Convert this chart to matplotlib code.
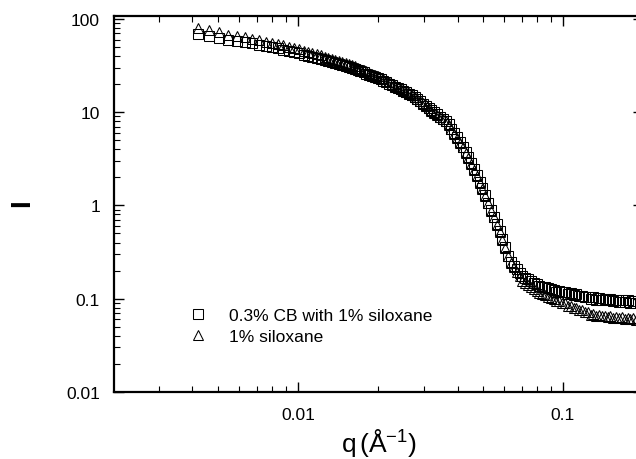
"""SANS intensity curves: 0.3% CB with 1% siloxane vs 1% siloxane."""

import matplotlib

matplotlib.use("Agg")

import matplotlib.pyplot as plt
from matplotlib import ticker

plt.rcParams["font.family"] = ["Liberation Sans", "DejaVu Sans"]
plt.rcParams["mathtext.fontset"] = "custom"
plt.rcParams["mathtext.rm"] = "Liberation Sans"
plt.rcParams["mathtext.it"] = "Liberation Sans"

# scattering vector q (1/A)
q = [
    0.00420, 0.00462, 0.00504, 0.00546, 0.00588, 0.00630, 0.00672, 0.00714,
    0.00756, 0.00798, 0.00840, 0.00882, 0.00924, 0.00966, 0.01008, 0.01050,
    0.01092, 0.01134, 0.01176, 0.01218, 0.01260, 0.01302, 0.01344, 0.01386,
    0.01428, 0.01470, 0.01512, 0.01554, 0.01596,
    0.0164, 0.0168, 0.0172, 0.0177, 0.0181, 0.0186, 0.0190, 0.0195, 0.0200, 0.0205,
    0.0210, 0.0215, 0.0221, 0.0226, 0.0232, 0.0238, 0.0244, 0.0250, 0.0256, 0.0262,
    0.0269, 0.0276, 0.0282, 0.0289, 0.0297, 0.0304, 0.0312, 0.0319, 0.0327, 0.0335,
    0.0344, 0.0352, 0.0361, 0.0370, 0.0379, 0.0389, 0.0398, 0.0408, 0.0419, 0.0429,
    0.0440, 0.0451, 0.0462, 0.0473, 0.0485, 0.0497, 0.0510, 0.0523, 0.0536, 0.0549,
    0.0563, 0.0577, 0.0591, 0.0606, 0.0621, 0.0637, 0.0653, 0.0669, 0.0686, 0.0703,
    0.0720, 0.0738, 0.0757, 0.0776, 0.0795, 0.0815, 0.0835, 0.0856, 0.0878, 0.0900,
    0.0922, 0.0945, 0.0969, 0.0993, 0.1018, 0.1043, 0.1069, 0.1096, 0.1123, 0.1151,
    0.1180, 0.1210, 0.1240, 0.1271, 0.1303, 0.1335, 0.1369, 0.1403, 0.1438, 0.1474,
    0.1511, 0.1548, 0.1587, 0.1627, 0.1667, 0.1709, 0.1752, 0.1796, 0.1840, 0.1886,
]

# intensity, 0.3% CB with 1% siloxane (squares)
intensity_cb = [
    69.0, 65.3, 62.5, 59.7, 58.3, 56.6, 54.5, 52.6, 50.9, 49.4, 48.1, 46.7,
    45.2, 43.9, 42.6, 41.4, 40.4, 39.3, 38.3, 37.3, 36.3, 35.4, 34.6, 33.8,
    33.0, 32.3, 31.6, 30.8, 29.9,
    29.0, 28.2, 27.5, 26.6, 25.9, 25.2, 24.6, 23.9, 23.2, 22.5,
    21.8, 21.0, 20.2, 19.6, 18.8, 18.1, 17.5, 16.9, 16.3, 15.8,
    15.2, 14.4, 13.8, 13.1, 12.3, 11.7, 11.1, 10.5, 10.0, 9.48,
    8.95, 8.51, 8.05, 7.39, 6.65, 5.93, 5.36, 4.81, 4.28, 3.76,
    3.27, 2.86, 2.47, 2.11, 1.79, 1.52, 1.28, 1.07, 0.90, 0.757,
    0.631, 0.528, 0.434, 0.354, 0.290, 0.246, 0.226, 0.208, 0.190, 0.175,
    0.167, 0.161, 0.155, 0.149, 0.144, 0.138, 0.135, 0.132, 0.129, 0.127,
    0.124, 0.119, 0.121, 0.117, 0.118, 0.112, 0.115, 0.109, 0.111, 0.106,
    0.108, 0.103, 0.105, 0.100, 0.103, 0.098, 0.101, 0.097, 0.100, 0.096,
    0.099, 0.094, 0.098, 0.093, 0.097, 0.092, 0.096, 0.091, 0.095, 0.090,
]

# intensity, 1% siloxane (triangles)
intensity_siloxane = [
    80.0, 75.2, 71.4, 67.9, 65.9, 63.5, 61.0, 58.8, 56.7, 54.9, 53.3, 51.8,
    50.0, 48.5, 47.0, 45.6, 44.3, 43.0, 41.8, 40.6, 39.4, 38.4, 37.4, 36.5,
    35.5, 34.7, 33.9, 32.9, 31.9,
    30.9, 29.9, 29.1, 28.1, 27.3, 26.5, 25.8, 25.0, 24.2, 23.4,
    22.6, 21.7, 20.8, 20.1, 19.2, 18.5, 17.8, 17.1, 16.4, 15.9,
    15.3, 14.5, 13.7, 13.0, 12.4, 11.8, 11.0, 10.4, 9.9, 9.40,
    8.90, 8.45, 7.95, 7.30, 6.55, 5.85, 5.28, 4.72, 4.20, 3.68,
    3.20, 2.80, 2.41, 2.06, 1.75, 1.49, 1.25, 1.05, 0.88, 0.742,
    0.618, 0.515, 0.425, 0.347, 0.285, 0.243, 0.217, 0.195, 0.173, 0.155,
    0.146, 0.140, 0.134, 0.128, 0.122, 0.116, 0.113, 0.109, 0.105, 0.102,
    0.0987, 0.0945, 0.0940, 0.0890, 0.0890, 0.0845, 0.0845, 0.0795, 0.0800, 0.0755,
    0.0755, 0.0712, 0.0715, 0.0672, 0.0688, 0.0660, 0.0672, 0.0645, 0.0658, 0.0630,
    0.0645, 0.0620, 0.0638, 0.0615, 0.0632, 0.0608, 0.0625, 0.0602, 0.0618, 0.0598,
]

series_labels = ["0.3% CB with 1% siloxane", "1% siloxane"]


def main() -> None:
    fig = plt.figure(figsize=(6.36, 4.6), dpi=100)
    # right spine sits just past the image edge, as in the scan
    ax = fig.add_axes([0.1792, 0.1457, 0.8318, 0.8163])

    ax.plot(q, intensity_cb, linestyle="none", marker="s", markersize=6.5,
            markerfacecolor="none", markeredgecolor="black",
            markeredgewidth=0.75, label=series_labels[0])
    ax.plot(q, intensity_siloxane, linestyle="none", marker="^", markersize=6.5,
            markerfacecolor="none", markeredgecolor="black",
            markeredgewidth=0.75, label=series_labels[1])

    ax.set_xscale("log")
    ax.set_yscale("log")
    ax.set_xlim(0.002023, 0.2004)
    ax.set_ylim(0.01, 106)

    fmt = ticker.FuncFormatter(lambda v, _: f"{v:g}")
    ax.xaxis.set_major_formatter(fmt)
    ax.yaxis.set_major_formatter(fmt)
    ax.xaxis.set_minor_formatter(ticker.NullFormatter())
    ax.yaxis.set_minor_formatter(ticker.NullFormatter())

    ax.tick_params(which="both", direction="in", top=True, right=True,
                   labelsize=12.5)
    ax.tick_params(which="major", length=7, width=1.0)
    ax.tick_params(which="minor", length=4, width=0.8)
    ax.tick_params(axis="y", pad=10)
    ax.tick_params(axis="x", pad=11)

    for spine in ax.spines.values():
        spine.set_linewidth(1.6)

    ax.set_xlabel(r"q$\,$(Å$^{\mathregular{-1}}$)", fontsize=19, labelpad=3)
    fig.text(22 / 636, 1 - 203 / 460, "I", rotation=90, fontsize=20,
             fontweight="bold", ha="center", va="center")

    ax.legend(loc="upper left", bbox_to_anchor=(0.1415, 0.224),
              frameon=False, fontsize=12.5, borderpad=0, borderaxespad=0,
              handlelength=1.0, handletextpad=1.3, labelspacing=0.32,
              markerscale=1.0)

    fig.savefig("out.png", dpi=100)
    plt.close(fig)


if __name__ == "__main__":
    main()
